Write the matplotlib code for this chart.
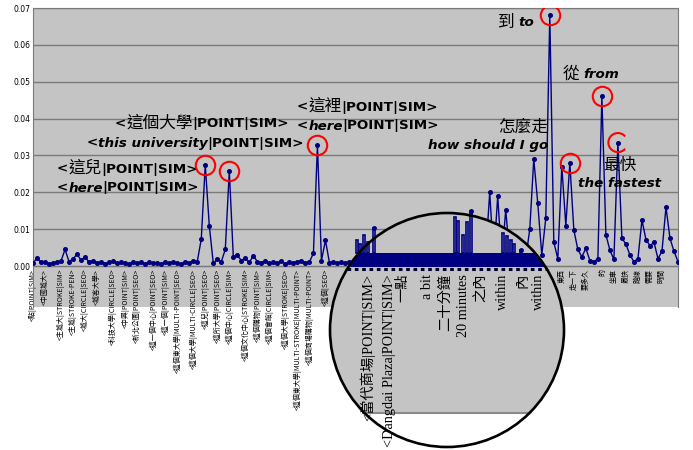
import numpy as np
import matplotlib
matplotlib.use("Agg")
import matplotlib.pyplot as plt
from matplotlib import patches
from matplotlib.lines import Line2D
from matplotlib.transforms import ScaledTranslation, BboxTransform, Bbox
from matplotlib.offsetbox import TextArea, HPacker, AnnotationBbox

plt.rcParams['font.family'] = ['DejaVu Sans', 'Noto Sans CJK TC']

# similarity score for each word / gesture unit along the utterance
values = [
    0.0008, 0.0022, 0.0010, 0.0012, 0.0006, 0.0009, 0.0011, 0.0014, 0.0045, 0.0012,
    0.0020, 0.0032, 0.0016, 0.0025, 0.0010, 0.0015, 0.0008, 0.0012, 0.0006, 0.0010,
    0.0013, 0.0007, 0.0011, 0.0009, 0.0005, 0.0012, 0.0008, 0.0010, 0.0006, 0.0011,
    0.0007, 0.0009, 0.0005, 0.0010, 0.0007, 0.0012, 0.0008, 0.0006, 0.0011, 0.0009,
    0.0014, 0.0012, 0.0073, 0.0274, 0.0110, 0.0008, 0.0018, 0.0012, 0.0045, 0.0258,
    0.0025, 0.0030, 0.0015, 0.0022, 0.0010, 0.0028, 0.0012, 0.0009, 0.0014, 0.0007,
    0.0011, 0.0008, 0.0013, 0.0006, 0.0010, 0.0009, 0.0012, 0.0015, 0.0008, 0.0011,
    0.0035, 0.0329, 0.0015, 0.0070, 0.0009, 0.0012, 0.0007, 0.0010, 0.0008, 0.0011,
    0.0006, 0.0012, 0.0009, 0.0010, 0.0007, 0.0013, 0.0008, 0.0011, 0.0006, 0.0010,
    0.0009, 0.0012, 0.0007, 0.0011, 0.0008, 0.0010, 0.0006, 0.0012, 0.0009, 0.0011,
    0.0007, 0.0010, 0.0008, 0.0012, 0.0009, 0.0011, 0.0006, 0.0010, 0.0008, 0.0012,
    0.0009, 0.0011, 0.0012, 0.0030, 0.0200, 0.0020, 0.0190, 0.0015, 0.0153, 0.0025,
    0.0010, 0.0040, 0.0012, 0.0020, 0.0100, 0.0290, 0.0170, 0.0030, 0.0130, 0.0680,
    0.0065, 0.0020, 0.0270, 0.0110, 0.0280, 0.0098, 0.0045, 0.0025, 0.0048, 0.0015,
    0.0012, 0.0020, 0.0460, 0.0085, 0.0043, 0.0018, 0.0335, 0.0075, 0.0060, 0.0030,
    0.0012, 0.0020, 0.0125, 0.0072, 0.0055, 0.0065, 0.0020, 0.0040, 0.0160, 0.0075,
    0.0040, 0.0012,
]

tick_pos = [0, 3, 7, 10, 13, 16, 20, 23, 26, 30, 33, 36, 40, 43, 46, 49, 53, 56, 59,
            63, 66, 69, 73, 132, 135, 138, 142, 145, 148, 151, 154, 157]
tick_labels = [
    "<點|POINT|SIM>", "<中國城大>", "<主城大|STROKE|SIM>", "<主城|STROKE-PEN>",
    "<城大|CIRCLE|SEO>", "<城客大學>", "<科技大學|CIRCLE|SEO>", "<中興|POINT|SIM>",
    "<新北公園|POINT|SEO>", "<這一個中心|POINT|SEO>", "<這一個|POINT|SIM>",
    "<這個東大學|MULTI-POINT|SEO>", "<這個大學|MULTI-CIRCLE|SEO>", "<這兒|POINT|SEO>",
    "<這所大學|POINT|SEO>", "<這個中心|CIRCLE|SIM>", "<這個文化中心|STROKE|SIM>",
    "<這個購物|POINT|SIM>", "<這個會館|CIRCLE|SIM>", "<這個大學|STROKE|SEO>",
    "<這個東大學|MULTI-STROKE|MULTI-POINT>", "<這個商場購物|MULTI-POINT>", "<這個|SEO>",
    "東西", "走一下", "要多久", "的", "坐車", "最快", "路線", "需要", "時間",
]
y_ticks = [0.0, 0.01, 0.02, 0.03, 0.04, 0.05, 0.06, 0.07]

peaks = [43, 49, 71, 129, 134, 142]
peak_open = [146]

# magnified part (inside the lens)
lens_pos = [1.5, 1.67, 1.89, 2.11, 2.44, 6.94, 7.11, 7.39, 7.61, 7.83, 9.61, 9.83, 10.06, 10.22, 10.61]
lens_vals = [0.0026, 0.0022, 0.0031, 0.0024, 0.0038, 0.0049, 0.0045, 0.0031, 0.0044, 0.0055,
             0.0033, 0.0030, 0.0026, 0.0022, 0.0016]
lens_label_pos = [2.06, 3.28, 4.05, 5.39, 6.39, 7.39, 8.39, 9.61, 10.72, 11.61]
lens_labels = ["<當代商場|POINT|SIM>", "<Dangdai Plaza|POINT|SIM>", "一點", "a bit",
               "二十分鐘", "20 minutes", "之內", "within", "內", "within"]

W, H = 693, 450
navy = '#000080'
gray = '#c4c4c4'

fig = plt.figure(figsize=(W / 100, H / 100), dpi=100)
ax = fig.add_axes([33 / W, 1 - 307 / H, 645 / W, 299 / H])
ax.set_facecolor(gray)
ax.spines['bottom'].set_position(('data', 0))
for s in ax.spines.values():
    s.set_color('#7a7a7a')

x = np.arange(len(values))
ax.plot(x, values, color=navy, lw=1, marker='o', ms=2.6, zorder=3)
ax.plot(peaks, [values[i] for i in peaks], ls='none', marker='o', ms=14,
        mfc='none', mec='red', mew=1.5, zorder=4)
for i in peak_open:
    tr = fig.dpi_scale_trans + ScaledTranslation(i, values[i], ax.transData)
    ax.add_patch(patches.Arc((0, 0), 0.19, 0.19, theta1=40, theta2=320, transform=tr,
                             color='red', lw=1.5, zorder=4))

ax.set_xlim(0, len(values) - 1)
ax.set_ylim(-0.0111, 0.07)
ax.set_yticks(y_ticks)
ax.set_yticklabels(["%.2f" % v for v in y_ticks], fontsize=5.5)
ax.set_xticks(tick_pos)
ax.set_xticklabels(tick_labels, rotation=90, fontsize=5, family=['Noto Sans CJK TC'])
ax.tick_params(length=0, pad=2)
ax.yaxis.grid(True, color='#7a7a7a', lw=1)
ax.set_axisbelow(True)

# annotations with mixed fonts
b = dict(family='DejaVu Sans', weight='bold', size=9.7, color='black')
bi = dict(family='DejaVu Sans', weight='bold', style='italic', size=9.7, color='black')
c = dict(family='Noto Sans CJK TC', size=12, color='black')

notes = [
    ([("<", b), ("這個大學", c), ("|POINT|SIM>", b)], 202, 123, 0.5),
    ([("<", b), ("this university", bi), ("|POINT|SIM>", b)], 195, 143, 0.5),
    ([("<", b), ("這兒", c), ("|POINT|SIM>", b)], 57, 168, 0.0),
    ([("<", b), ("here", bi), ("|POINT|SIM>", b)], 57, 188, 0.0),
    ([("<", b), ("這裡", c), ("|POINT|SIM>", b)], 297, 106, 0.0),
    ([("<", b), ("here", bi), ("|POINT|SIM>", b)], 297, 126, 0.0),
    ([("怎麼走", c)], 548, 127, 1.0),
    ([("how should I go", bi)], 548, 146, 1.0),
    ([("到 ", c), ("to", bi)], 498, 22, 0.0),
    ([("從 ", c), ("from", bi)], 563, 74, 0.0),
    ([("最快", c)], 620, 165, 0.5),
    ([("the fastest", bi)], 620, 183, 0.5),
]
for parts, px, py, al in notes:
    boxes = [TextArea(t, textprops=p) for t, p in parts]
    pack = HPacker(children=boxes, align="baseline", pad=0, sep=0)
    ab = AnnotationBbox(pack, (px / W, 1 - py / H), xycoords='figure fraction',
                        box_alignment=(al, 0.5), frameon=False, pad=0)
    ax.add_artist(ab)

# magnifying lens, drawn straight on the figure
lx0, lx1, lyb, lyt = 330 / W, 564 / W, 3 / H, 237 / H
lim = Bbox([[0, -0.0181], [13, 0.0053]])
lens_data = BboxTransform(lim, Bbox([[lx0, lyb], [lx1, lyt]])) + fig.transFigure
lens_unit = BboxTransform(Bbox([[0, 0], [1, 1]]), Bbox([[lx0, lyb], [lx1, lyt]])) + fig.transFigure


def fy(v):
    return (v - lim.y0) / lim.height


def segment(lo, hi):
    # part of the lens disc between two heights (unit square coords)
    ys = np.linspace(lo, hi, 80)
    half = np.sqrt(np.clip(0.25 - (ys - 0.5) ** 2, 0, None))
    return np.vstack([np.column_stack([0.5 - half, ys]),
                      np.column_stack([0.5 + half, ys])[::-1]])


cap_lo = fy(-0.0147)
fig.add_artist(patches.Polygon(segment(cap_lo, 1.0), closed=True, transform=lens_unit,
                               facecolor=gray, edgecolor='none', zorder=20))
fig.add_artist(patches.Polygon(segment(0, cap_lo), closed=True, transform=lens_unit,
                               facecolor='white', edgecolor='none', zorder=20))
edge = segment(cap_lo, cap_lo)
fig.add_artist(Line2D(edge[[0, -1], 0], edge[[0, -1], 1], transform=lens_unit,
                      color='#8a8a8a', lw=1.5, zorder=21))
for pos, val in zip(lens_pos, lens_vals):
    fig.add_artist(patches.Rectangle((pos - 0.06, 0.0013), 0.12, val - 0.0013,
                                     transform=lens_data, facecolor='#e2e2e2',
                                     edgecolor=navy, lw=1.2, zorder=22))
fig.add_artist(Line2D(lens_pos[4::5], lens_vals[4::5], transform=lens_data, ls='none',
                      marker='o', ms=2.5, color=navy, zorder=23))
fig.add_artist(patches.Polygon(segment(fy(-0.0001), fy(0.0013)), closed=True,
                               transform=lens_unit, facecolor=navy, edgecolor='none',
                               zorder=23))
dash = segment(fy(-0.00025), fy(-0.00025))
fig.add_artist(Line2D(dash[[0, -1], 0], dash[[0, -1], 1], transform=lens_unit,
                      color='#000030', lw=2.2, dashes=(1.2, 1.2), zorder=23))
ring = patches.Circle((0.5, 0.5), 0.5, transform=lens_unit, fill=False,
                      edgecolor='black', lw=1.9, zorder=30)
fig.add_artist(ring)
for pos, lab in zip(lens_label_pos, lens_labels):
    t = fig.text(pos, -0.0008, lab, transform=lens_data, rotation=90, ha='center',
                 va='top', family=['Liberation Serif', 'Noto Sans CJK TC'], fontsize=10.3,
                 zorder=24)
    t.set_clip_path(ring)

fig.savefig("out.png", dpi=100)
